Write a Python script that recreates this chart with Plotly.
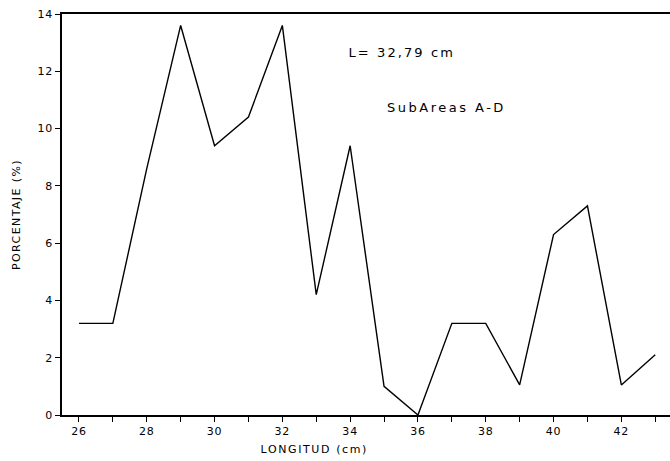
import plotly.graph_objects as go

# Length classes (cm) and percentage of individuals in each class
longitud = [26, 27, 28, 29, 30, 31, 32, 33, 34, 35, 36, 37, 38, 39, 40, 41, 42, 43]
porcentaje = [3.2, 3.2, 8.6, 13.6, 9.4, 10.4, 13.6, 4.2, 9.4, 1.0, 0.0,
              3.2, 3.2, 1.05, 6.3, 7.3, 1.05, 2.1]

# Ticks on every centimetre, labels on even values only
x_tickvals = list(range(26, 44))
x_ticktext = [str(v) if v % 2 == 0 else "" for v in x_tickvals]
y_tickvals = [0, 2, 4, 6, 8, 10, 12, 14]

font_family = "DejaVu Sans, Verdana, sans-serif"

fig = go.Figure()
fig.add_trace(go.Scatter(
    x=longitud, y=porcentaje, mode="lines",
    line=dict(color="black", width=1.4),
    showlegend=False,
))

fig.add_annotation(x=0.559, y=0.905, xref="paper", yref="paper",
                   text="L= 32,79 cm", showarrow=False,
                   xanchor="center", yanchor="middle",
                   font=dict(size=13, color="black", family=font_family))
fig.add_annotation(x=0.632, y=0.768, xref="paper", yref="paper",
                   text="SubAreas A-D", showarrow=False,
                   xanchor="center", yanchor="middle",
                   font=dict(size=13, color="black", family=font_family))
fig.add_annotation(x=0.414, y=-0.087, xref="paper", yref="paper",
                   text="LONGITUD (cm)", showarrow=False,
                   xanchor="center", yanchor="middle",
                   font=dict(size=11, color="black", family=font_family))

fig.update_layout(
    width=670, height=461,
    margin=dict(l=62, r=0, t=14, b=46),
    paper_bgcolor="white", plot_bgcolor="white",
    font=dict(family=font_family, size=11, color="black"),
    xaxis=dict(
        range=[25.5, 43.435],
        tickvals=x_tickvals, ticktext=x_ticktext,
        ticks="outside", ticklen=5, tickcolor="black",
        showline=True, linecolor="black", linewidth=1.5, mirror=True,
        showgrid=False, zeroline=False,
    ),
    yaxis=dict(
        range=[0, 14],
        tickvals=y_tickvals,
        ticks="outside", ticklen=5, tickcolor="black",
        showline=True, linecolor="black", linewidth=1.5,
        showgrid=False, zeroline=False,
        title=dict(text="PORCENTAJE (%)", standoff=16, font=dict(size=11)),
    ),
)

# Widen the lettering of titles and notes
spacing_js = """
var gd = document.getElementsByClassName('plotly-graph-div')[0];
var noteSpacing = ['2.1px', '2.5px', '1.6px'];
function spread() {
  gd.querySelectorAll('.ytitle').forEach(function (t) { t.style.letterSpacing = '1.4px'; });
  gd.querySelectorAll('.annotation-text').forEach(function (t, i) {
    t.style.letterSpacing = noteSpacing[i] || '1.6px';
  });
  gd.querySelectorAll('.xtick text, .ytick text').forEach(function (t) { t.style.letterSpacing = '0.8px'; });
}
spread();
gd.on('plotly_afterplot', spread);
"""

fig.write_html("out.html", post_script=spacing_js)
